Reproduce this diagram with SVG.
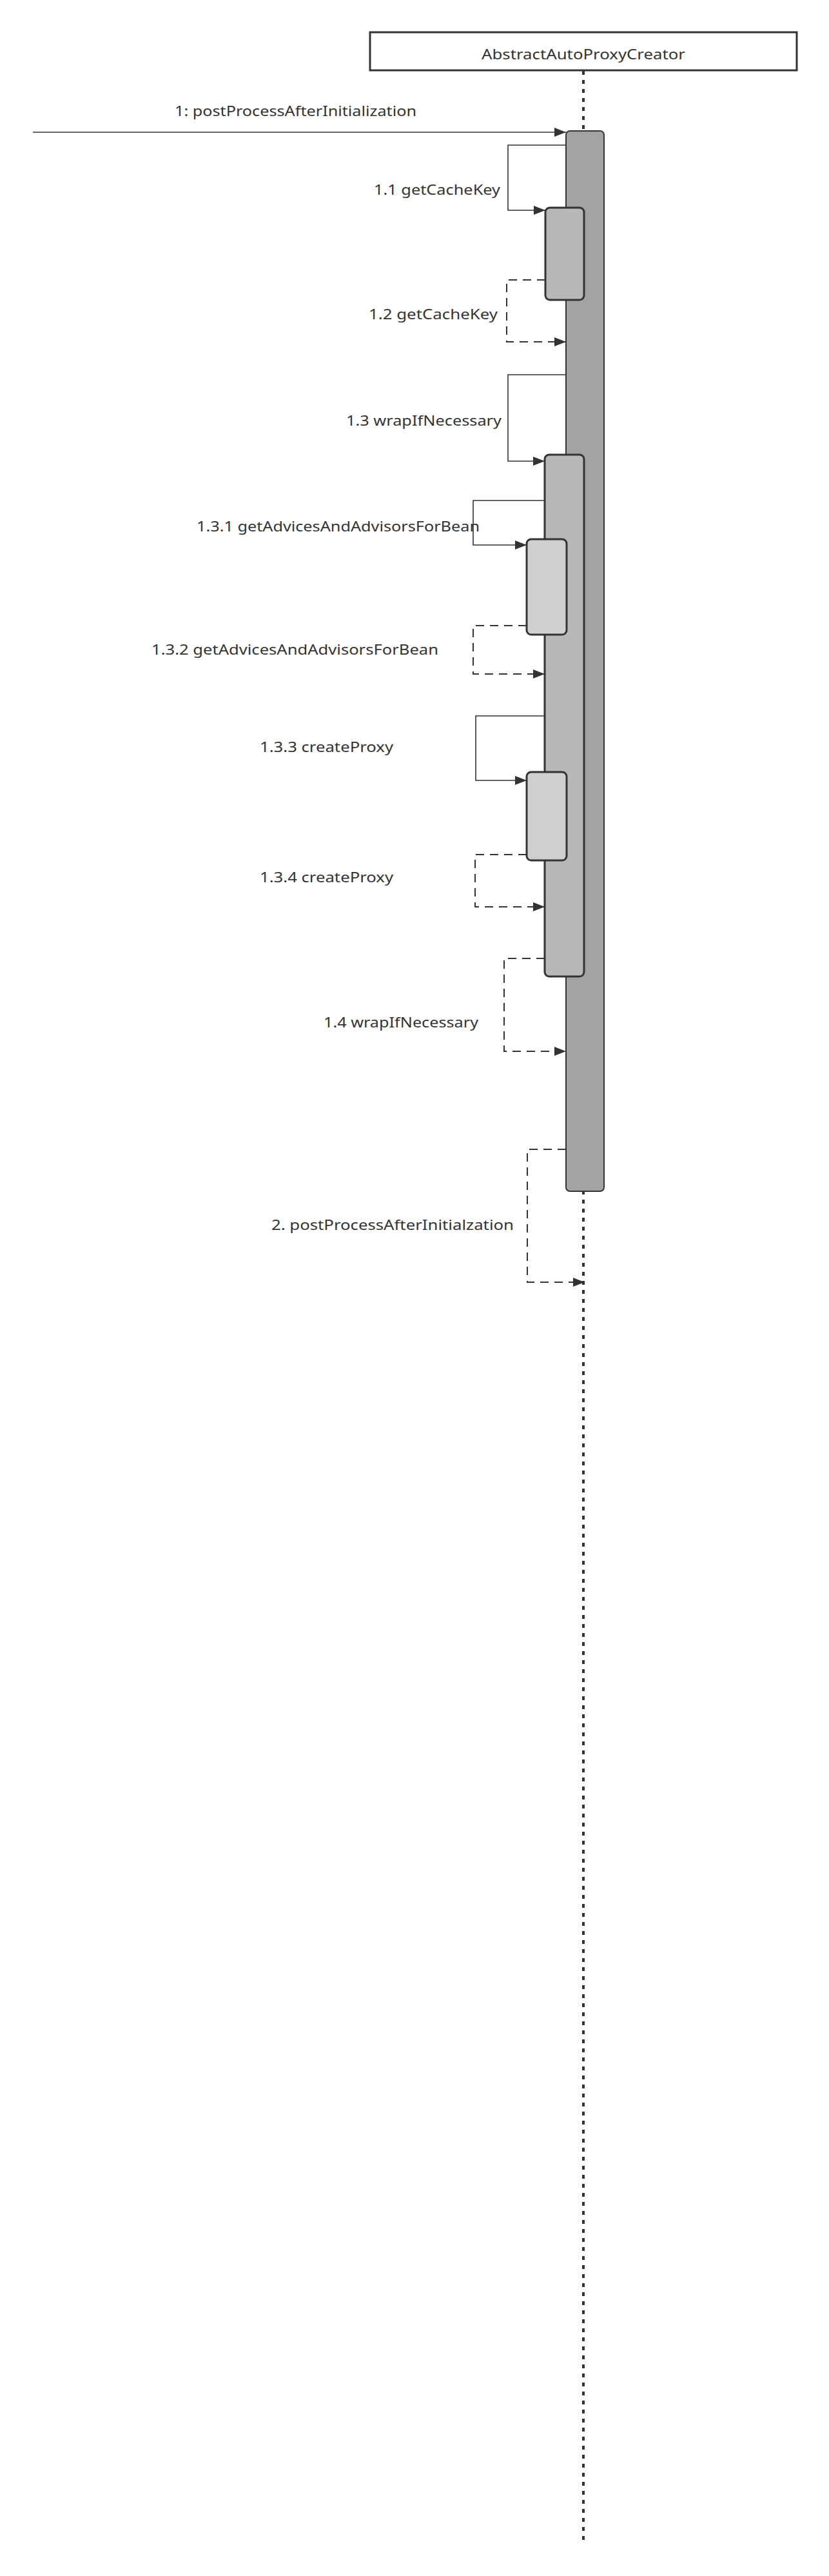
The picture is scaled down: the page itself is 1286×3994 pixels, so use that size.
<svg xmlns="http://www.w3.org/2000/svg" width="1286" height="3994" viewBox="0 0 1286 3994">
<style>
.lbl{font-family:"Noto Sans","Liberation Sans",Arial,sans-serif;font-size:22px;fill:#333}
.solid{fill:none;stroke:#333;stroke-width:1.6}
.dash{fill:none;stroke:#333;stroke-width:2;stroke-dasharray:13 9}
.act{stroke:#333;stroke-width:3}
</style>
<defs>
<marker id="ah" markerUnits="userSpaceOnUse" markerWidth="18" markerHeight="14" refX="18" refY="7" orient="auto">
<path d="M0,0 L18,7 L0,14 z" fill="#333"/>
</marker>
</defs>
<rect width="1286" height="3994" fill="#fff"/>
<g id="lifeline">
<line x1="905" y1="110" x2="905" y2="3938" stroke="#333" stroke-width="4" stroke-dasharray="6 8"/>
</g>
<g id="header">
<rect x="574" y="50" width="662" height="59" fill="#fff" stroke="#333" stroke-width="3"/>
<text class="lbl" x="747" y="92" textLength="316" lengthAdjust="spacingAndGlyphs">AbstractAutoProxyCreator</text>
</g>
<g id="bar-main">
<rect x="878" y="203" width="59" height="1644" rx="6" fill="#a3a3a3" stroke="#333" stroke-width="2"/>
</g>
<g id="act-getCacheKey">
<rect class="act" x="846" y="322" width="60" height="143" rx="7" fill="#b8b8b8"/>
</g>
<g id="act-wrapIfNecessary">
<rect class="act" x="845" y="705" width="61" height="809" rx="7" fill="#b8b8b8"/>
</g>
<g id="act-getAdvices">
<rect class="act" x="817" y="836" width="62" height="148" rx="7" fill="#cfcfcf"/>
</g>
<g id="act-createProxy">
<rect class="act" x="817" y="1197" width="62" height="137" rx="7" fill="#cfcfcf"/>
</g>
<g id="connectors">
<path class="solid" d="M51,205 H878" marker-end="url(#ah)" stroke-width="2"/>
<path class="solid" d="M878,225 H788 V326 H846" marker-end="url(#ah)"/>
<path class="dash" d="M846,434 H786 V530 H878" marker-end="url(#ah)"/>
<path class="solid" d="M878,581 H788 V715 H845" marker-end="url(#ah)"/>
<path class="solid" d="M845,776 H734 V845 H817" marker-end="url(#ah)"/>
<path class="dash" d="M817,970 H734 V1045 H845" marker-end="url(#ah)"/>
<path class="solid" d="M845,1110 H738 V1210 H817" marker-end="url(#ah)"/>
<path class="dash" d="M817,1325 H737 V1406 H845" marker-end="url(#ah)"/>
<path class="dash" d="M845,1486 H782 V1630 H878" marker-end="url(#ah)"/>
<path class="dash" d="M878,1782 H818 V1988 H907" marker-end="url(#ah)"/>
<text class="lbl" x="271" y="180" textLength="375" lengthAdjust="spacingAndGlyphs">1: postProcessAfterInitialization</text>
<text class="lbl" x="580" y="302" textLength="196" lengthAdjust="spacingAndGlyphs">1.1 getCacheKey</text>
<text class="lbl" x="572" y="495" textLength="200" lengthAdjust="spacingAndGlyphs">1.2 getCacheKey</text>
<text class="lbl" x="537" y="660" textLength="241" lengthAdjust="spacingAndGlyphs">1.3 wrapIfNecessary</text>
<text class="lbl" x="305" y="824" textLength="439" lengthAdjust="spacingAndGlyphs">1.3.1 getAdvicesAndAdvisorsForBean</text>
<text class="lbl" x="235" y="1015" textLength="445" lengthAdjust="spacingAndGlyphs">1.3.2 getAdvicesAndAdvisorsForBean</text>
<text class="lbl" x="403" y="1166" textLength="207" lengthAdjust="spacingAndGlyphs">1.3.3 createProxy</text>
<text class="lbl" x="403" y="1368" textLength="207" lengthAdjust="spacingAndGlyphs">1.3.4 createProxy</text>
<text class="lbl" x="502" y="1593" textLength="240" lengthAdjust="spacingAndGlyphs">1.4 wrapIfNecessary</text>
<text class="lbl" x="421" y="1907" textLength="376" lengthAdjust="spacingAndGlyphs">2. postProcessAfterInitialzation</text>
</g>
</svg>
